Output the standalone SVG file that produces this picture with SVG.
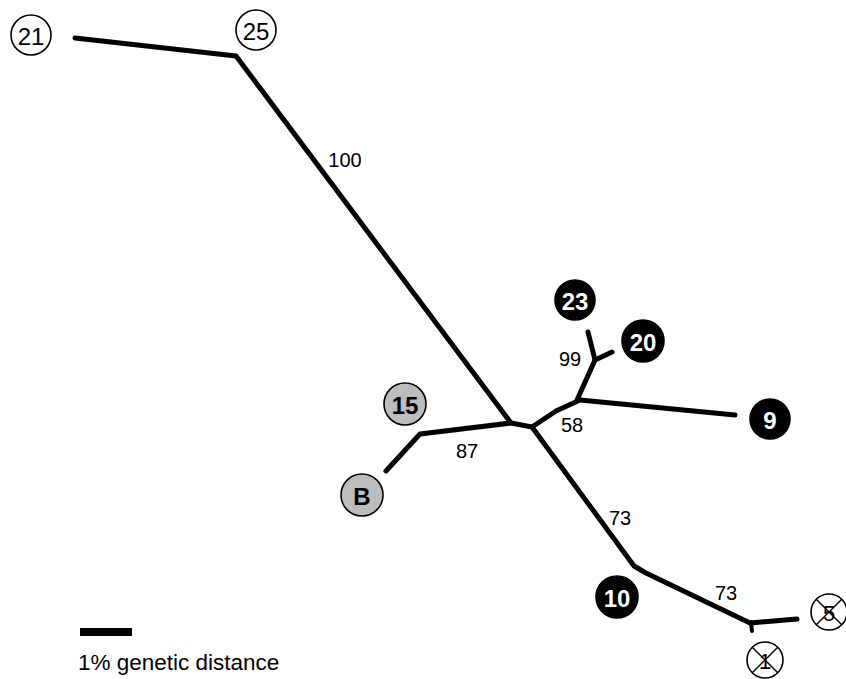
<svg xmlns="http://www.w3.org/2000/svg" width="846" height="679" viewBox="0 0 846 679">
<style>
.br{fill:none;stroke:#000;stroke-width:5;stroke-linecap:round;stroke-linejoin:round}
.open{fill:#fff;stroke:#000;stroke-width:1.6}
.gray{fill:#bdbdbd;stroke:#000;stroke-width:1.6}
.dark{fill:#000;stroke:#000;stroke-width:1.6}
.cross{stroke:#000;stroke-width:1.4}
.t{font-family:"Liberation Sans",Arial,sans-serif;font-size:24px;text-anchor:middle;dominant-baseline:central}
.tw{fill:#fff;font-weight:bold}
.tb{fill:#000;font-weight:bold}
.lab{font-family:"Liberation Sans",Arial,sans-serif;font-size:20px;fill:#000;text-anchor:middle}
</style>
<rect width="846" height="679" fill="#fff"/>
<g id="connectors">
<polyline class="br" points="75,38 236,56 511,423 532,427"/>
<polyline class="br" points="511,423 420,434 386,471"/>
<polyline class="br" points="532,427 556,411 580,400 735,415"/>
<polyline class="br" points="577,400 595,360 588,332"/>
<polyline class="br" points="595,360 612,352"/>
<polyline class="br" points="532,427 634,566 646,573 750,623 797,619"/>
<polyline class="br" points="751,622 752,631" style="stroke-width:4"/>
</g>
<g id="labels">
<text class="lab" x="345" y="167">100</text>
<text class="lab" x="570" y="366">99</text>
<text class="lab" x="572" y="432">58</text>
<text class="lab" x="467" y="458">87</text>
<text class="lab" x="620" y="525">73</text>
<text class="lab" x="726" y="600">73</text>
</g>
<g id="n21"><circle class="open" cx="31" cy="35" r="20"/><text class="t" x="31" y="36">21</text></g>
<g id="n25"><circle class="open" cx="256" cy="30" r="20"/><text class="t" x="256" y="31">25</text></g>
<g id="n15"><circle class="gray" cx="405" cy="404" r="21"/><text class="t tb" x="405" y="405">15</text></g>
<g id="nB"><circle class="gray" cx="362" cy="495" r="21"/><text class="t tb" x="362" y="496">B</text></g>
<g id="n23"><circle class="dark" cx="575" cy="300" r="20"/><text class="t tw" x="575" y="301">23</text></g>
<g id="n20"><circle class="dark" cx="643" cy="341" r="21"/><text class="t tw" x="643" y="342">20</text></g>
<g id="n9"><circle class="dark" cx="770" cy="419" r="20"/><text class="t tw" x="770" y="420">9</text></g>
<g id="n10"><circle class="dark" cx="617" cy="597" r="21"/><text class="t tw" x="617" y="598">10</text></g>
<g id="n5"><circle class="open" cx="829" cy="612" r="18"/><text class="t" x="829" y="613" style="font-size:22px">5</text><line class="cross" x1="816" y1="599" x2="842" y2="625"/><line class="cross" x1="842" y1="599" x2="816" y2="625"/></g>
<g id="n1"><circle class="open" cx="765" cy="660" r="18"/><text class="t" x="765" y="661" style="font-size:22px">1</text><line class="cross" x1="752" y1="647" x2="778" y2="673"/><line class="cross" x1="778" y1="647" x2="752" y2="673"/></g>
<g id="scale">
<rect x="80" y="628" width="52" height="8" fill="#000"/>
<text x="78" y="670" style="font-family:'Liberation Sans',Arial,sans-serif;font-size:22.5px;fill:#000">1% genetic distance</text>
</g>
</svg>
